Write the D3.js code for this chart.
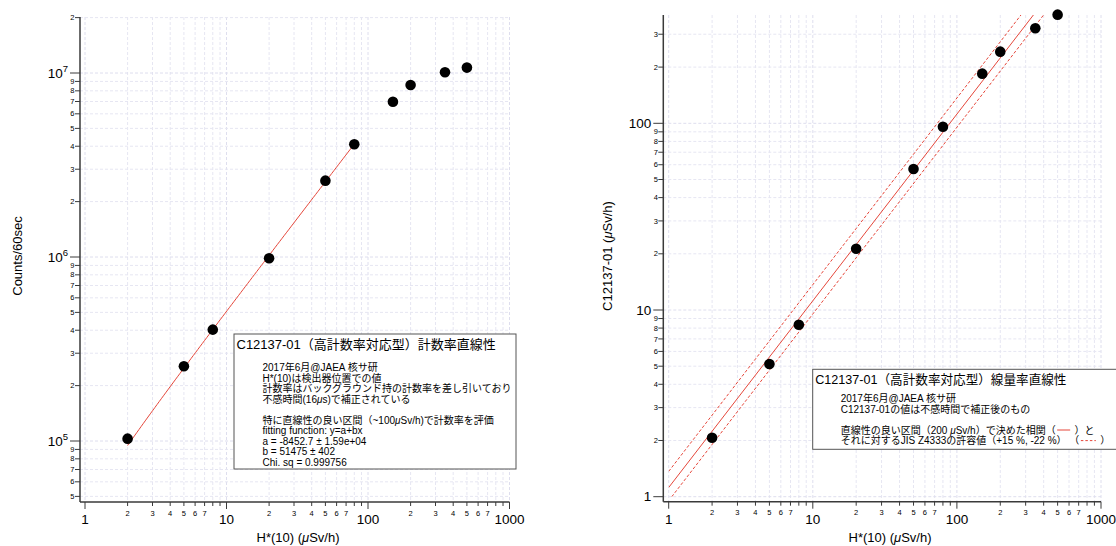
<!DOCTYPE html>
<html>
<head>
<meta charset="utf-8">
<script src="https://cdn.jsdelivr.net/npm/d3@7"></script>
<style>
  body { margin: 0; background: #fff; }
  svg { display: block; font-family: "Liberation Sans", Arial, "Noto Sans CJK JP", sans-serif; }
</style>
</head>
<body>
<svg id="chart" width="1116" height="546"></svg>
<script>
// ---- Count-rate linearity panel ----
const countDose = [2, 5, 8, 20, 50, 80, 150, 200, 350, 500];           // H*(10) µSv/h
const countRate = [1.03e5, 2.55e5, 4.03e5, 9.85e5, 2.6e6, 4.1e6, 6.98e6, 8.6e6, 1.01e7, 1.07e7]; // counts / 60 s
const countFitA = -8452.7;
const countFitB = 51475;
const countFitRange = [2, 80];
const countTitle = "C12137-01（高計数率対応型）計数率直線性";
const countNotes = [
  "2017年6月@JAEA 核サ研",
  "H*(10)は検出器位置での値",
  "計数率はバックグラウンド持の計数率を差し引いており",
  "不感時間(16μs)で補正されている",
  "",
  "特に直線性の良い区間（~100μSv/h)で計数率を評価",
  "fitting function: y=a+bx",
  "a = -8452.7 ± 1.59e+04",
  "b = 51475 ± 402",
  "Chi. sq = 0.999756"
];

// ---- Dose-rate linearity panel ----
const doseRef = [2, 5, 8, 20, 50, 80, 150, 200, 350, 500];            // H*(10) µSv/h
const doseRead = [2.07, 5.14, 8.34, 21.3, 56.9, 95.9, 184.5, 242, 323, 382]; // C12137-01 µSv/h
const doseFitSlope = 1.12;
const jisPlus = 15;   // %
const jisMinus = 22;  // %
const doseTitle = "C12137-01（高計数率対応型）線量率直線性";
const doseNotes = [
  "2017年6月@JAEA 核サ研",
  "C12137-01の値は不感時間で補正後のもの",
  "",
  "直線性の良い区間（200 μSv/h）で決めた相関（{solid} ）と",
  "それに対するJIS Z4333の許容値（+" + jisPlus + " %, -" + jisMinus + " %）  （{dash} ）"
];

const xLabel = "H*(10) (μSv/h)";
const RED = "#e5473b";
const AXIS = "#3a3a3a";
const GRID = "#e6e6f2";
const GRID_MAJOR = "#dedeee";

const svg = d3.select("#chart");

// write a string into a text element, setting µ in italics
function rich(textSel, str) {
  str.split(/(μ)/).forEach(part => {
    if (!part) return;
    const ts = textSel.append("tspan").text(part);
    if (part === "μ") ts.attr("font-style", "italic");
  });
}

function mantissa(v) {
  return Math.round(v / Math.pow(10, Math.floor(Math.log10(v) + 1e-9)));
}

function drawPanel(cfg) {
  const g = svg.append("g");
  const x = cfg.x, y = cfg.y;
  const axX = cfg.axisX, axY = cfg.axisY, top = cfg.top, right = cfg.right;

  const xt = x.copy().domain([x.invert(axX), x.invert(right + 0.5)]).ticks();
  const yt = y.copy().domain([y.invert(axY), y.invert(top - 0.5)]).ticks();

  // grid
  const grid = g.append("g").attr("stroke-width", 1);
  xt.forEach(v => {
    const major = mantissa(v) === 1;
    grid.append("line")
      .attr("x1", x(v)).attr("x2", x(v)).attr("y1", top).attr("y2", axY)
      .attr("stroke-dasharray", "3,2")
      .attr("stroke", major ? GRID_MAJOR : GRID);
  });
  yt.forEach(v => {
    const major = mantissa(v) === 1;
    grid.append("line")
      .attr("x1", axX).attr("x2", right).attr("y1", y(v)).attr("y2", y(v))
      .attr("stroke-dasharray", "3,2")
      .attr("stroke", major ? GRID_MAJOR : GRID);
  });

  // axes
  g.append("line").attr("x1", axX).attr("x2", axX).attr("y1", top).attr("y2", axY)
    .attr("stroke", AXIS).attr("stroke-width", 1.5);
  g.append("line").attr("x1", axX).attr("x2", right).attr("y1", axY).attr("y2", axY)
    .attr("stroke", AXIS).attr("stroke-width", 1.5);

  xt.forEach(v => {
    const m = mantissa(v), major = m === 1;
    g.append("line").attr("x1", x(v)).attr("x2", x(v))
      .attr("y1", axY).attr("y2", axY + (major ? 7 : 4))
      .attr("stroke", AXIS).attr("stroke-width", 1);
    if (major) {
      g.append("text").attr("x", x(v)).attr("y", axY + 22)
        .attr("text-anchor", "middle").attr("font-size", 13.5).text(v);
    } else if (m <= 7) {
      g.append("text").attr("x", x(v)).attr("y", axY + 13.5)
        .attr("text-anchor", "middle").attr("font-size", 7.5).text(m);
    }
  });

  yt.forEach(v => {
    const m = mantissa(v), major = m === 1;
    g.append("line").attr("x1", axX - (major ? 10 : 5)).attr("x2", axX)
      .attr("y1", y(v)).attr("y2", y(v))
      .attr("stroke", AXIS).attr("stroke-width", 1);
    if (major) {
      const t = g.append("text").attr("x", axX - 12).attr("y", y(v) + 4.5)
        .attr("text-anchor", "end").attr("font-size", 13.5);
      if (cfg.powerLabels) {
        const e = Math.round(Math.log10(v));
        t.append("tspan").text("10");
        t.append("tspan").attr("font-size", 9.5).attr("dy", -6).text(e);
      } else {
        t.text(v);
      }
    } else {
      g.append("text").attr("x", axX - 5.5).attr("y", y(v) + 2.6)
        .attr("text-anchor", "end").attr("font-size", 7.5).text(m);
    }
  });

  // axis titles
  const xl = g.append("text").attr("x", cfg.xLabelX).attr("y", 541.5)
    .attr("text-anchor", "middle").attr("font-size", 13);
  rich(xl, xLabel);
  const yl = g.append("text")
    .attr("transform", `translate(${cfg.yLabelX},256) rotate(-90)`)
    .attr("text-anchor", "middle").attr("font-size", 13);
  rich(yl, cfg.yLabel);

  return g;
}

// ================= left panel =================
const xL = d3.scaleLog().domain([1, 1000]).range([85, 509.5]);
const yL = d3.scaleLog().domain([1e5, 1e7]).range([441, 73]);
const gL = drawPanel({
  x: xL, y: yL, axisX: 80, axisY: 502, top: 17, right: 509.5,
  powerLabels: true, xLabelX: 298, yLabelX: 21.5, yLabel: "Counts/60sec"
});

// fitted line y = a + b x over the evaluation range
const fitXs = d3.range(0, 101).map(i => countFitRange[0] * Math.pow(countFitRange[1] / countFitRange[0], i / 100));
gL.append("path")
  .datum(fitXs)
  .attr("fill", "none").attr("stroke", RED).attr("stroke-width", 1)
  .attr("d", d3.line().x(d => xL(d)).y(d => yL(countFitA + countFitB * d)));

gL.selectAll("circle.pt").data(countDose).join("circle")
  .attr("class", "pt")
  .attr("cx", d => xL(d)).attr("cy", (d, i) => yL(countRate[i]))
  .attr("r", 5.3).attr("fill", "#000");

// legend box
function legend(g, box, title, notes, titleSize, noteX, firstBase, lh) {
  g.append("rect").attr("x", box[0]).attr("y", box[1]).attr("width", box[2]).attr("height", box[3])
    .attr("fill", "#fff").attr("stroke", "#555").attr("stroke-width", 1);
  g.append("text").attr("x", box[0] + 2.5).attr("y", box[1] + titleSize + 2)
    .attr("font-size", titleSize).text(title);
  notes.forEach((line, i) => {
    if (!line) return;
    const yy = firstBase + i * lh;
    const marker = line.match(/\{(solid|dash)\}/);
    if (!marker) {
      rich(g.append("text").attr("x", noteX).attr("y", yy).attr("font-size", 10), line);
      return;
    }
    const [before, after] = line.split(marker[0]);
    const t1 = g.append("text").attr("x", noteX).attr("y", yy).attr("font-size", 10);
    rich(t1, before);
    const w = t1.node().getComputedTextLength();
    const x0 = noteX + w + 1.5, len = marker[1] === "dash" ? 15 : 13;
    g.append("line").attr("x1", x0).attr("x2", x0 + len).attr("y1", yy - 3.8).attr("y2", yy - 3.8)
      .attr("stroke", RED).attr("stroke-width", 1)
      .attr("stroke-dasharray", marker[1] === "dash" ? "2.5,2" : null);
    g.append("text").attr("x", x0 + len + 1.5).attr("y", yy).attr("font-size", 10)
      .attr("xml:space", "preserve").style("white-space", "pre").text(after);
  });
}
legend(gL, [234, 334, 282, 135], countTitle, countNotes, 13, 262.5, 371, 10.5);

// ================= right panel =================
const xR = d3.scaleLog().domain([1, 1000]).range([668.7, 1101]);
const yR = d3.scaleLog().domain([1, 100]).range([496.7, 123.3]);
const gR = drawPanel({
  x: xR, y: yR, axisX: 663.3, axisY: 501.7, top: 15, right: 1101,
  powerLabels: false, xLabelX: 890, yLabelX: 611.5, yLabel: "C12137-01 (μSv/h)"
});

svg.append("defs").append("clipPath").attr("id", "clipR")
  .append("rect").attr("x", xR(1)).attr("y", 15)
  .attr("width", 1101 - xR(1)).attr("height", yR(1) - 15);

const bandXs = [1, 1000];
const bands = [
  { k: doseFitSlope, dash: null },
  { k: doseFitSlope * (1 + jisMinus / 100), dash: "3,2" },
  { k: doseFitSlope * (1 - jisPlus / 100), dash: "3,2" }
];
gR.append("g").attr("clip-path", "url(#clipR)")
  .selectAll("path").data(bands).join("path")
  .attr("fill", "none").attr("stroke", RED).attr("stroke-width", 1)
  .attr("stroke-dasharray", d => d.dash)
  .attr("d", d => d3.line().x(v => xR(v)).y(v => yR(d.k * v))(bandXs));

gR.selectAll("circle.pt").data(doseRef).join("circle")
  .attr("class", "pt")
  .attr("cx", d => xR(d)).attr("cy", (d, i) => yR(doseRead[i]))
  .attr("r", 5.3).attr("fill", "#000");

legend(gR, [812.7, 369.3, 320, 80], doseTitle, doseNotes, 12.6, 840.7, 402, 10.6);
</script>
</body>
</html>
